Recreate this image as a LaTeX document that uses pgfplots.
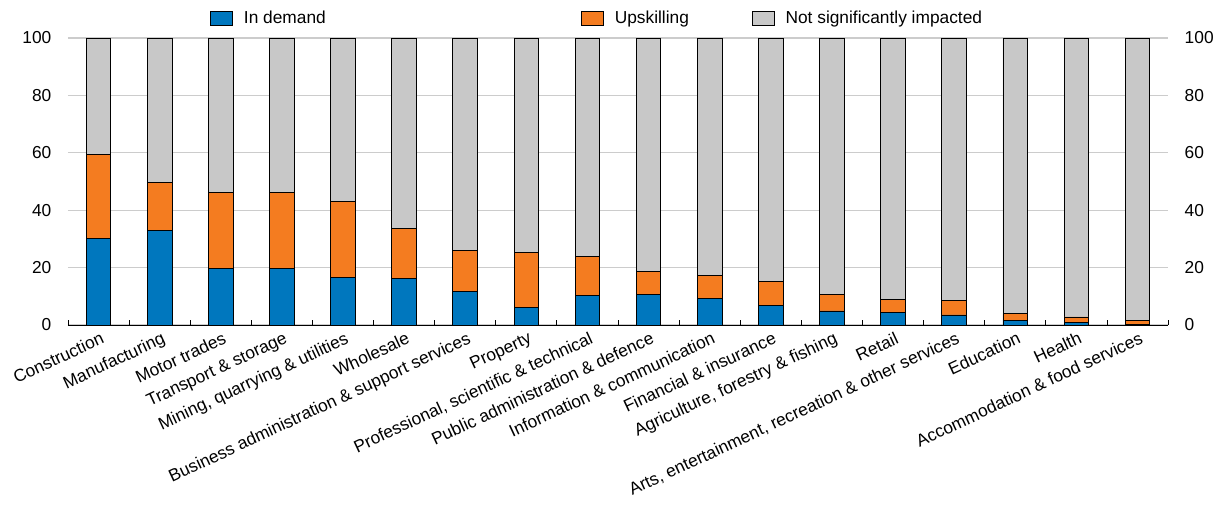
\documentclass[border=0pt]{standalone}
\usepackage{fontspec}
\setmainfont{Liberation Sans}
\usepackage{pgfplots}
\pgfplotsset{compat=1.18}
\definecolor{cblue}{RGB}{0,119,190}
\definecolor{corange}{RGB}{244,124,32}
\definecolor{cgray}{RGB}{200,200,200}
\definecolor{gridgray}{RGB}{204,204,204}
\newcommand{\lf}{\fontsize{13}{15}\selectfont}
\pgfplotsset{
  barbox/.style={draw=black, line width=0.6pt, fill=#1,
    legend image code/.code={\draw[draw=black,line width=0.6pt,fill=#1] (0pt,-5.25pt) rectangle (16.5pt,5.25pt); \path (24.75pt,0);}},
}
\begin{document}
\begin{tikzpicture}
\begin{axis}[name=main,
  width=825pt, height=215.25pt, scale only axis,
  ybar stacked, bar width=18.5pt,
  xmin=-0.5, xmax=17.5, ymin=0, ymax=100,
  xtick={0,...,17},
  xticklabels={Construction, Manufacturing, Motor trades, Transport \& storage, {Mining, quarrying \& utilities}, Wholesale, Business administration \& support services, Property, {Professional, scientific \& technical}, Public administration \& defence, Information \& communication, Financial \& insurance, {Agriculture, forestry \& fishing}, Retail, {Arts, entertainment, recreation \& other services}, Education, Health, Accommodation \& food services},
  x tick label style={rotate=25, anchor=north east, inner sep=1pt, font=\lf, yshift=-3.5pt},
  major x tick style={draw=none},
  minor xtick={-0.5,0.5,...,17.5},
  minor tick length=3.75pt,
  minor x tick style={black, line width=0.6pt},
  tick align=inside,
  axis x line*=bottom, axis y line*=left,
  x axis line style={-, black, line width=0.75pt},
  y axis line style={draw=none},
  ytick={0,20,...,100},
  major y tick style={draw=none},
  ymajorgrids, major grid style={line width=1pt, color=gridgray},
  y tick label style={font=\lf, xshift=-9pt},
  /pgf/number format/assume math mode=true,
  legend columns=3,
  legend style={at={(0.129,1.0697)}, anchor=west, draw=none, fill=none, inner sep=0pt, font=\lf,
    nodes={inner sep=0pt}, cells={anchor=west},
    /tikz/every even column/.append style={column sep=0pt},
    /tikz/every odd column/.append style={column sep=0pt}},
]
\addplot[barbox=cblue] coordinates {(0,30.1) (1,32.9) (2,19.7) (3,19.6) (4,16.5) (5,16.1) (6,11.8) (7,6.2) (8,10.3) (9,10.7) (10,9.2) (11,6.7) (12,4.9) (13,4.3) (14,3.5) (15,1.7) (16,0.9) (17,0.3)};
\addplot[barbox=corange] coordinates {(0,29.4) (1,16.9) (2,26.4) (3,26.5) (4,26.4) (5,17.7) (6,14.3) (7,19.1) (8,13.7) (9,8.0) (10,8.0) (11,8.5) (12,5.8) (13,4.7) (14,4.9) (15,2.2) (16,1.9) (17,1.4)};
\addplot[barbox=cgray] coordinates {(0,40.5) (1,50.2) (2,53.9) (3,53.9) (4,57.1) (5,66.2) (6,73.9) (7,74.7) (8,76.0) (9,81.3) (10,82.8) (11,84.8) (12,89.3) (13,91.0) (14,91.6) (15,96.1) (16,97.2) (17,98.3)};
\legend{\makebox[252.75pt][l]{In demand}, \makebox[102.75pt][l]{Upskilling}, Not significantly impacted}
\end{axis}
\begin{axis}[
  width=825pt, height=215.25pt, scale only axis,
  xmin=-0.5, xmax=17.5, ymin=0, ymax=100,
  axis x line=none, axis y line*=right,
  y axis line style={draw=none},
  ytick={0,20,...,100}, major tick length=0pt,
  y tick label style={font=\lf, xshift=9pt},
  /pgf/number format/assume math mode=true,
]
\addplot[draw=none] coordinates {(0,0)};
\end{axis}
\pgfresetboundingbox
\useasboundingbox ([shift={(-51pt,-134.25pt)}]main.south west) rectangle ([shift={(43.5pt,28.5pt)}]main.north east);
\end{tikzpicture}
\end{document}
